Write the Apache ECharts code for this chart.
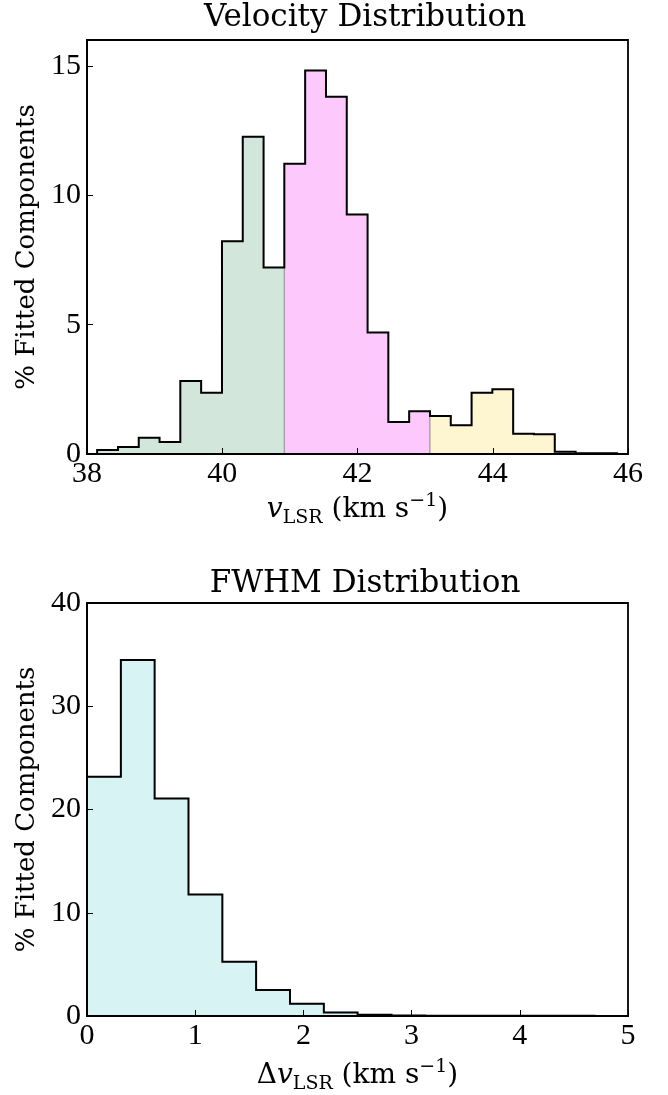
<!DOCTYPE html>
<html>
<head>
<meta charset="utf-8">
<script src="https://cdn.jsdelivr.net/npm/echarts@6/dist/echarts.min.js"></script>
<style>
html,body{margin:0;padding:0;background:#fff;}
#chart{width:668px;height:1095px;}
</style>
</head>
<body>
<div id="chart"></div>
<script>
// ---- Velocity distribution (top) ----
const velEdges = [38.15, 38.458, 38.765, 39.073, 39.38, 39.688, 39.996, 40.303, 40.611, 40.918,
                  41.226, 41.534, 41.841, 42.149, 42.456, 42.764, 43.072, 43.379, 43.687, 43.994,
                  44.302, 44.61, 44.917, 45.225, 45.532, 45.84];
const velPct = [0.15, 0.27, 0.63, 0.46, 2.82, 2.37, 8.22, 12.26, 7.21, 11.22,
                14.82, 13.81, 9.26, 4.70, 1.24, 1.65, 1.47, 1.11, 2.37, 2.50,
                0.78, 0.76, 0.09, 0.03, 0.03];
// region index of each velocity bin (0 = green, 1 = pink, 2 = yellow)
const velRegion = [0,0,0,0,0,0,0,0,0, 1,1,1,1,1,1,1, 2,2,2,2,2,2,2,2,2];
const velRegionColors = ['#d3e6dc', '#fdc9fd', '#fdf6d0'];
const velXTicks = [38, 40, 42, 44, 46];
const velYTicks = [0, 5, 10, 15];

// ---- FWHM distribution (bottom) ----
const fwhmEdges = [0, 0.313, 0.625, 0.938, 1.251, 1.563, 1.876, 2.189, 2.501, 2.814,
                   3.127, 3.439, 3.752, 4.065, 4.377, 4.69];
const fwhmPct = [23.16, 34.48, 21.06, 11.77, 5.26, 2.52, 1.19, 0.35, 0.13, 0.04,
                 0.03, 0.03, 0.03, 0.02, 0.02];
const fwhmColor = '#d8f3f3';
const fwhmXTicks = [0, 1, 2, 3, 4, 5];
const fwhmYTicks = [0, 10, 20, 30, 40];

const NUMFONT = 'Liberation Serif';
const TXTFONT = 'DejaVu Serif';
const FS = 28;
const TICKFS = 30;

function regionRanges(pct, region) {
  const ranges = [];
  for (let i = 0; i < pct.length; i++) {
    const r = region[i];
    if (!ranges.length || ranges[ranges.length - 1].r !== r) ranges.push({ r: r, s: i, e: i });
    else ranges[ranges.length - 1].e = i;
  }
  return ranges;
}

function fillSeries(xi, yi, edges, pct, ranges, colors) {
  return {
    type: 'custom',
    xAxisIndex: xi, yAxisIndex: yi,
    z: 1,
    silent: true,
    data: ranges.map(function (g) { return [edges[g.s], 0]; }),
    renderItem: function (params, api) {
      const g = ranges[params.dataIndex];
      const pts = [api.coord([edges[g.s], 0])];
      for (let i = g.s; i <= g.e; i++) {
        pts.push(api.coord([edges[i], pct[i]]));
        pts.push(api.coord([edges[i + 1], pct[i]]));
      }
      pts.push(api.coord([edges[g.e + 1], 0]));
      return {
        type: 'polygon',
        shape: { points: pts },
        style: { fill: colors[g.r], stroke: '#9a9a9a', lineWidth: 1 }
      };
    }
  };
}

function outlineSeries(xi, yi, edges, pct) {
  return {
    type: 'custom',
    xAxisIndex: xi, yAxisIndex: yi,
    z: 2,
    silent: true,
    data: [[edges[0], 0]],
    renderItem: function (params, api) {
      const pts = [api.coord([edges[0], 0])];
      for (let i = 0; i < pct.length; i++) {
        pts.push(api.coord([edges[i], pct[i]]));
        pts.push(api.coord([edges[i + 1], pct[i]]));
      }
      pts.push(api.coord([edges[edges.length - 1], 0]));
      return {
        type: 'polyline',
        shape: { points: pts },
        style: { fill: null, stroke: '#000', lineWidth: 2 }
      };
    }
  };
}

const axisNameRich = {
  n: { fontFamily: TXTFONT, fontSize: FS, color: '#000', lineHeight: 36, verticalAlign: 'middle' },
  v: { fontFamily: TXTFONT, fontSize: FS, color: '#000', fontStyle: 'italic', lineHeight: 36, verticalAlign: 'middle' },
  sub: { fontFamily: TXTFONT, fontSize: 19, color: '#000', lineHeight: 19, verticalAlign: 'bottom' },
  sup: { fontFamily: TXTFONT, fontSize: 19, color: '#000', lineHeight: 19, verticalAlign: 'top' }
};

function xAxisCfg(gi, min, max, ticks, name, gap) {
  return {
    type: 'value', gridIndex: gi, min: min, max: max, z: 5,
    axisLine: { show: true, onZero: false, lineStyle: { color: '#000', width: 1.8 } },
    axisTick: { show: true, inside: true, length: 6, customValues: ticks, lineStyle: { color: '#000', width: 1 } },
    axisLabel: { customValues: ticks, margin: 5, color: '#000', fontFamily: NUMFONT, fontSize: TICKFS },
    splitLine: { show: false },
    name: name, nameLocation: 'middle', nameGap: gap,
    nameTextStyle: { rich: axisNameRich }
  };
}
function yAxisCfg(gi, min, max, ticks) {
  return {
    type: 'value', gridIndex: gi, min: min, max: max, z: 5,
    axisLine: { show: true, onZero: false, lineStyle: { color: '#000', width: 1.8 } },
    axisTick: { show: true, inside: true, length: 6, customValues: ticks, lineStyle: { color: '#000', width: 1 } },
    axisLabel: { customValues: ticks, margin: 6, color: '#000', fontFamily: NUMFONT, fontSize: TICKFS },
    splitLine: { show: false },
    name: '% Fitted Components', nameLocation: 'middle', nameGap: 37, nameRotate: 90,
    nameTextStyle: { color: '#000', fontFamily: TXTFONT, fontSize: 26 }
  };
}

const velRanges = regionRanges(velPct, velRegion);
const fwhmRanges = [{ r: 0, s: 0, e: fwhmPct.length - 1 }];

const chart = echarts.init(document.getElementById('chart'), null, { renderer: 'canvas' });
chart.setOption({
  animation: false,
  backgroundColor: '#fff',
  title: [
    { text: 'Velocity Distribution', left: 360, top: -3, textAlign: 'center',
      textStyle: { fontFamily: TXTFONT, fontSize: 31, fontWeight: 'normal', color: '#000' } },
    { text: 'FWHM Distribution', left: 360, top: 563, textAlign: 'center',
      textStyle: { fontFamily: TXTFONT, fontSize: 31, fontWeight: 'normal', color: '#000' } }
  ],
  grid: [
    { left: 87, top: 40, width: 541, height: 414, show: true, borderColor: '#000', borderWidth: 1.8, z: 5,
      backgroundColor: 'transparent', containLabel: false, outerBoundsMode: 'none' },
    { left: 87, top: 603, width: 541, height: 413, show: true, borderColor: '#000', borderWidth: 1.8, z: 5,
      backgroundColor: 'transparent', containLabel: false, outerBoundsMode: 'none' }
  ],
  xAxis: [
    xAxisCfg(0, 38, 46, velXTicks, '{v|v}{sub|LSR}{n| (km s}{sup|−1}{n|)}', 38),
    xAxisCfg(1, 0, 5, fwhmXTicks, '{n|Δ}{v|v}{sub|LSR}{n| (km s}{sup|−1}{n|)}', 42)
  ],
  yAxis: [
    yAxisCfg(0, 0, 16, velYTicks),
    yAxisCfg(1, 0, 40, fwhmYTicks)
  ],
  series: [
    fillSeries(0, 0, velEdges, velPct, velRanges, velRegionColors),
    outlineSeries(0, 0, velEdges, velPct),
    fillSeries(1, 1, fwhmEdges, fwhmPct, fwhmRanges, [fwhmColor]),
    outlineSeries(1, 1, fwhmEdges, fwhmPct)
  ]
});
</script>
</body>
</html>
